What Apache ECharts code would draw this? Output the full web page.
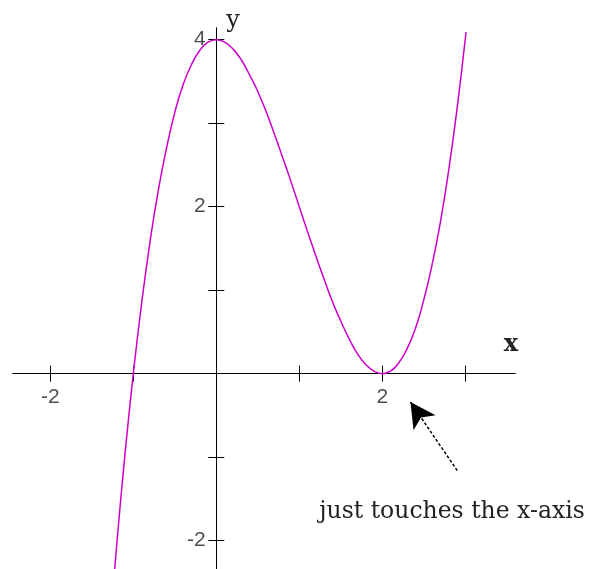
<!DOCTYPE html>
<html>
<head>
<meta charset="utf-8">
<style>
  html, body { margin: 0; padding: 0; background: #fff; }
  #chart { width: 589px; height: 569px; }
</style>
<script src="https://cdn.jsdelivr.net/npm/echarts@6/dist/echarts.min.js"></script>
</head>
<body>
<div id="chart"></div>
<script>
// points
const xs = [-1.25, -1.2, -1.1, -1.0, -0.9, -0.8, -0.7, -0.6, -0.5, -0.4, -0.3, -0.2, -0.1,
  0, 0.1, 0.2, 0.3, 0.4, 0.5, 0.6, 0.7, 0.8, 0.9, 1.0, 1.1, 1.2, 1.3, 1.4, 1.5, 1.6, 1.7,
  1.8, 1.9, 2.0, 2.1, 2.2, 2.3, 2.4, 2.5, 2.6, 2.7, 2.8, 2.9, 3.0, 3.01]
const ys = [-2.64, -2.05, -0.96, 0, 0.84, 1.57, 2.19, 2.70, 3.13, 3.46, 3.70, 3.87, 3.97,
  4, 3.97, 3.89, 3.76, 3.58, 3.38, 3.14, 2.87, 2.59, 2.30, 2, 1.70, 1.41, 1.13, 0.86, 0.63, 0.42, 0.24,
  0.11, 0.03, 0, 0.03, 0.13, 0.30, 0.54, 0.88, 1.30, 1.81, 2.43, 3.16, 4, 4.09]

const xTicks = [-2, -1, 1, 2, 3]
const xLabels = [-2, 2]
const yTicks = [-2, -1, 1, 2, 3, 4]
const yLabels = [-2, 2, 4]

const curve = xs.map((x, i) => [x, ys[i]])

const labelStyle = {
  color: '#222',
  fontFamily: 'Liberation Sans',
  fontSize: 21
}

// two axes per direction, both sitting on zero, so the ticks cross the line
function xAxisOpt(position) {
  return {
    type: 'value',
    position,
    min: -2.45,
    max: 3.6,
    axisLine: { onZero: true, lineStyle: { color: '#000', width: 1 } },
    axisTick: { show: true, length: 8, customValues: xTicks, lineStyle: { color: '#000' } },
    axisLabel: { show: false },
    splitLine: { show: false }
  }
}

function yAxisOpt(position) {
  return {
    type: 'value',
    position,
    min: -2.34,
    max: 4.14,
    axisLine: { onZero: true, lineStyle: { color: '#000', width: 1 } },
    axisTick: { show: true, length: 8, customValues: yTicks, lineStyle: { color: '#000' } },
    axisLabel: { show: false },
    splitLine: { show: false }
  }
}

const chart = echarts.init(document.getElementById('chart'))
chart.setOption({
  animation: false,
  grid: { left: 13, right: 74, top: 28, bottom: 0, containLabel: false, outerBoundsMode: 'none' },
  xAxis: [xAxisOpt('bottom'), xAxisOpt('top')],
  yAxis: [yAxisOpt('left'), yAxisOpt('right')],
  series: [
    {
      type: 'line',
      data: curve,
      smooth: true,
      showSymbol: false,
      clip: true,
      lineStyle: { color: '#cc00cc', width: 1.5 },
      markLine: {
        silent: true,
        animation: false,
        label: { show: false },
        lineStyle: { color: '#000', width: 1.5, type: [3, 2] },
        symbolSize: [20, 25],
        data: [[
          { coord: [2.34, -0.34], symbol: 'arrow' },
          { coord: [2.91, -1.17], symbol: 'none' }
        ]]
      }
    },
    {
      // tick labels on the x axis
      type: 'scatter',
      silent: true,
      symbolSize: 1,
      itemStyle: { color: 'transparent' },
      data: xLabels.map(v => [v, 0]),
      label: Object.assign({
        show: true, position: 'bottom', distance: 13,
        formatter: p => String(p.value[0])
      }, labelStyle)
    },
    {
      // tick labels on the y axis
      type: 'scatter',
      silent: true,
      symbolSize: 1,
      itemStyle: { color: 'transparent' },
      data: yLabels.map(v => [0, v]),
      label: Object.assign({
        show: true, position: 'left', distance: 10,
        formatter: p => String(p.value[1])
      }, labelStyle)
    }
  ],
  graphic: [
    {
      type: 'text', x: 233, y: 21,
      style: { text: 'y', fontFamily: 'DejaVu Serif', fontSize: 24, fill: '#222', align: 'center', verticalAlign: 'middle' }
    },
    {
      type: 'text', x: 511, y: 345,
      style: { text: 'x', fontFamily: 'DejaVu Serif', fontSize: 24, fontWeight: 'bold', fill: '#222', align: 'center', verticalAlign: 'middle' }
    },
    {
      type: 'text', x: 452, y: 512,
      style: { text: 'just touches the x-axis', fontFamily: 'DejaVu Serif', fontSize: 23.5, fill: '#222', align: 'center', verticalAlign: 'middle' }
    }
  ]
})
</script>
</body>
</html>
